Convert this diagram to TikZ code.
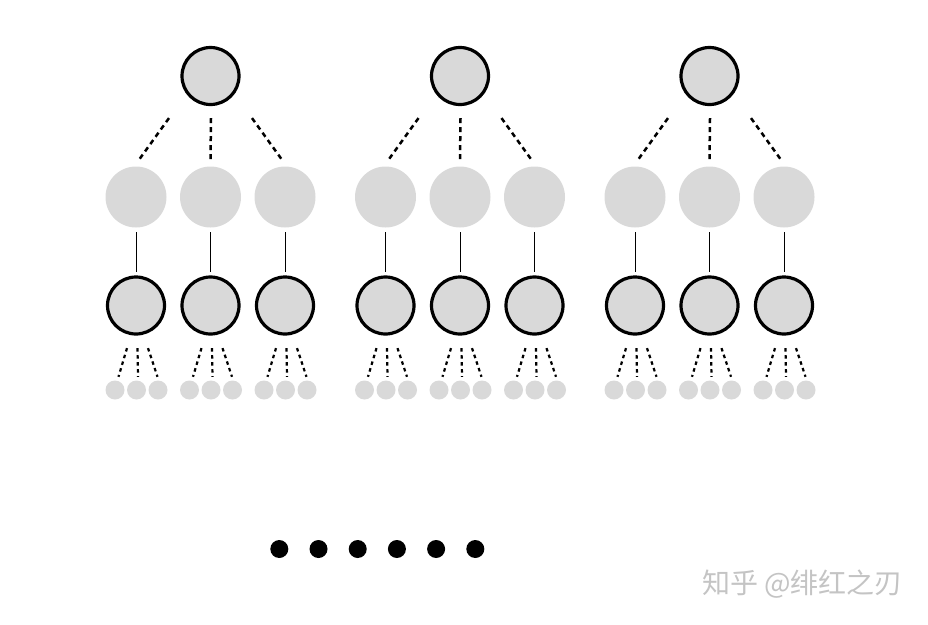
\documentclass[tikz,border=0pt]{standalone}
\usepackage{fontspec}
\usepackage{tikz}
\newfontfamily\cjk{Noto Sans CJK SC}
\definecolor{nodegray}{HTML}{D9D9D9}
\definecolor{markgray}{HTML}{C4C4C4}

\begin{document}
\begin{tikzpicture}[x=1pt,y=-1pt,
topnode/.style={circle,draw,line width=3.2pt,fill=nodegray,minimum size=57pt,inner sep=0pt},
midnode/.style={circle,fill=nodegray,minimum size=61pt,inner sep=0pt},
leafnode/.style={circle,fill=nodegray,minimum size=19pt,inner sep=0pt},
dotnode/.style={circle,fill=black,minimum size=18pt,inner sep=0pt},
topdash/.style={line width=2.5pt,dash pattern=on 5pt off 4pt},
leafdash/.style={line width=2.2pt,dash pattern=on 3.5pt off 3.5pt},
stem/.style={line width=0.9pt,shorten <=4.3pt,shorten >=3.5pt}]
\useasboundingbox (0,0) rectangle (928,624);
\foreach \g/\cx in {1/210.5,2/460,3/709.5}{
  \node[topnode] (t\g) at (\cx,76) {};
  \foreach \i/\dx in {1/-74.5,2/0,3/74.5}{
    \node[midnode] (m\g\i) at ({\cx+\dx},197) {};
    \node[topnode] (b\g\i) at ({\cx+\dx},305.5) {};
    \draw[stem] (m\g\i) -- (b\g\i);
    \foreach \j/\sx in {1/-21.5,2/0,3/21.5}
      \node[leafnode] (s\g\i\j) at ({\cx+\dx+\sx+0.5},390) {};
    \foreach \j/\a/\b in {1/-9/3.5,2/1.5/1.5,3/12/-0.5}
      \draw[leafdash] ([xshift=\a pt,yshift=-12.5pt]b\g\i.south) -- ([xshift=\b pt,yshift=3.5pt]s\g\i\j.north);
  }
  \foreach \i/\a/\b in {1/-41.5/3,2/0.5/0,3/41.5/-3}
    \draw[topdash] ([xshift=\a pt,yshift=-12pt]t\g.south) -- ([xshift=\b pt,yshift=6.5pt]m\g\i.north);
}
% row of dots
\foreach \k in {0,...,5}
  \node[dotnode] (d\k) at ({279.3+39.2*\k},549) {};
\node[text=markgray,font=\cjk\fontsize{28}{28}\selectfont] (mark) at (802.5,584) {知乎 @绯红之刃};
\end{tikzpicture}
\end{document}
